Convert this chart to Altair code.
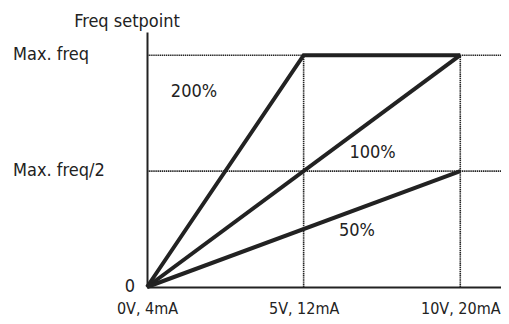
import altair as alt
import pandas as pd

# Data
series_names = ["200%", "200%", "200%", "100%", "100%", "50%", "50%"]
series_x = [0, 5, 10, 0, 10, 0, 10]
series_y = [0, 1, 1, 0, 1, 0, 0.5]

x_ticks = [0, 5, 10]
x_tick_labels = ["0V, 4mA", "5V, 12mA", "10V, 20mA"]
y_ticks = [0, 0.5, 1]
y_tick_labels = ["0", "Max. freq/2", "Max. freq"]

ann_text = ["200%", "100%", "50%"]
ann_x = [1.5, 7.2, 6.7]
ann_y = [0.84, 0.58, 0.24]

h_ref = [0.5, 1]
v_ref = [5, 10]

X_MAX = 11.3
Y_MAX = 1.1
FONT = "DejaVu Sans Condensed, Roboto, sans-serif"
FS = 18

lines_df = pd.DataFrame({"series": series_names, "x": series_x, "y": series_y})
hdf = pd.DataFrame({"y": h_ref, "x": [0] * len(h_ref), "x2": [X_MAX] * len(h_ref)})
vdf = pd.DataFrame({"x": v_ref, "y": [0] * len(v_ref), "y2": [1] * len(v_ref)})
ann_df = pd.DataFrame({"t": ann_text, "x": ann_x, "y": ann_y})
ylab_df = pd.DataFrame({"y": y_ticks, "t": y_tick_labels})

label_map = "{" + ",".join(f"'{v}':'{l}'" for v, l in zip(x_ticks, x_tick_labels)) + "}"

xs = alt.Scale(domain=[0, X_MAX], nice=False, zero=False)
ys = alt.Scale(domain=[0, Y_MAX], nice=False, zero=False)

xaxis = alt.Axis(values=x_ticks, labelExpr=f"{label_map}[datum.value]", title=None,
                 grid=False, ticks=False, domainColor="#222", domainWidth=2,
                 labelFont=FONT, labelFontSize=16, labelColor="#222", labelPadding=26,
                 labelBaseline="alphabetic", labelFlush=False, labelOverlap=False)
yaxis = alt.Axis(values=y_ticks, labels=False, title=None, grid=False, ticks=False,
                 domainColor="#222", domainWidth=2)

dotted_h = alt.Chart(hdf).mark_rule(color="#222", strokeWidth=1.6, strokeDash=[1.4, 0.7]).encode(
    x=alt.X("x:Q", scale=xs), x2="x2:Q", y=alt.Y("y:Q", scale=ys))
dotted_v = alt.Chart(vdf).mark_rule(color="#222", strokeWidth=1.6, strokeDash=[1.4, 0.7]).encode(
    x=alt.X("x:Q", scale=xs), y=alt.Y("y:Q", scale=ys), y2="y2:Q")

lines = alt.Chart(lines_df).mark_line(color="#222", strokeWidth=4, strokeJoin="miter").encode(
    x=alt.X("x:Q", scale=xs, axis=xaxis),
    y=alt.Y("y:Q", scale=ys, axis=yaxis),
    detail="series:N",
    order="x:Q")

ann = alt.Chart(ann_df).mark_text(font=FONT, fontSize=FS, color="#222").encode(
    x=alt.X("x:Q", scale=xs), y=alt.Y("y:Q", scale=ys), text="t:N")

ylab_left = alt.Chart(ylab_df[ylab_df.y > 0]).mark_text(
    font=FONT, fontSize=FS, color="#222", align="left", baseline="middle").encode(
    x=alt.value(-134), y=alt.Y("y:Q", scale=ys), text="t:N")
ylab_zero = alt.Chart(ylab_df[ylab_df.y == 0]).mark_text(
    font=FONT, fontSize=FS, color="#222", align="right", baseline="middle").encode(
    x=alt.value(-12), y=alt.Y("y:Q", scale=ys), text="t:N")

title_df = pd.DataFrame({"t": ["Freq setpoint"], "y": [Y_MAX]})
ytitle = alt.Chart(title_df).mark_text(
    font=FONT, fontSize=FS, color="#222", align="center", baseline="bottom", dy=-1).encode(
    x=alt.value(-20), y=alt.Y("y:Q", scale=ys), text="t:N")

chart = alt.layer(lines, dotted_h, dotted_v, ann, ylab_left, ylab_zero, ytitle).properties(
    width=354, height=255,
    autosize=alt.AutoSizeParams(type="none"),
    padding={"left": 139, "top": 24, "right": 0, "bottom": 29},
).configure_view(stroke=None)

chart.save("out.html", embed_options={"renderer": "svg", "actions": False})
